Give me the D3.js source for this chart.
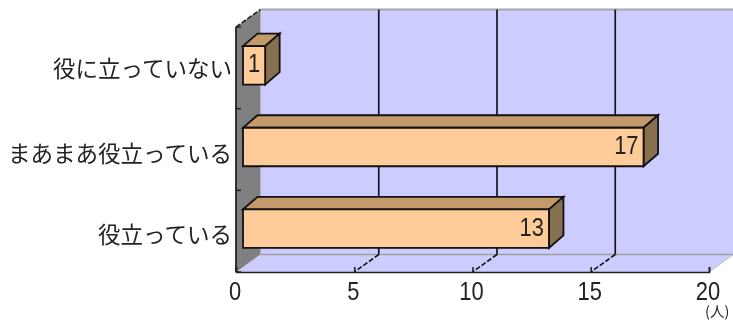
<!DOCTYPE html>
<html><head><meta charset="utf-8">
<style>html,body{margin:0;padding:0;background:#fff}svg{display:block;filter:blur(0.35px)}
text{font-family:"Noto Sans CJK JP",sans-serif;fill:#222}
.num{font-family:"Liberation Sans",sans-serif}</style>
<script src="https://cdn.jsdelivr.net/npm/d3@7"></script></head><body>
<svg id="c" width="733" height="322"></svg>
<script>
const categories = ["役に立っていない","まあまあ役立っている","役立っている"];
const values = [1,17,13];
const xTicks = [0,5,10,15,20];
const unitLabel = "(人)";

const pL=236,pR=709,pT=27,pB=272,dx=24.5,dy=-17.5,digitW=12.2;
const svg=d3.select("#c");
const x=d3.scaleLinear().domain([0,20]).range([pL,pR]);
const y=d3.scaleBand().domain(categories).range([pT,pB]);
const line=d3.line();
const poly=(pts,fill,stroke,sw)=>svg.append("path").attr("d",line(pts)+"Z").attr("fill",fill).attr("stroke",stroke||"none").attr("stroke-width",sw||0);

// walls
poly([[pL+dx,pT+dy],[pR+dx,pT+dy],[pR+dx,pB+dy],[pL+dx,pB+dy]],"#ccccff");
poly([[pL,pB],[pR,pB],[pR+dx,pB+dy],[pL+dx,pB+dy]],"#ccccff");
poly([[pL,pT],[pL+dx,pT+dy],[pL+dx,pB+dy],[pL,pB]],"#808080");
svg.append("path").attr("d",line([[pL+dx,pT+dy],[pR+dx,pT+dy]])).attr("stroke","#a6a6a6").attr("stroke-width",2);
svg.append("path").attr("d",line([[pL+dx,pB+dy],[pR+dx,pB+dy]])).attr("stroke","#a0a0a0").attr("stroke-width",1.5);
svg.append("path").attr("d",line([[pR,pB],[pR+dx,pB+dy]])).attr("stroke","#c0c0c0").attr("stroke-width",1);

// back-wall gridlines and dashed floor ticks
xTicks.slice(1,-1).forEach(t=>{
  svg.append("line").attr("x1",x(t)+dx).attr("x2",x(t)+dx).attr("y1",pT+dy).attr("y2",pB+dy).attr("stroke","#14141e").attr("stroke-width",1.7);
  svg.append("line").attr("x1",x(t)+dx).attr("x2",x(t)).attr("y1",pB+dy).attr("y2",pB).attr("stroke","#111").attr("stroke-width",1.6).attr("stroke-dasharray","5 2");
});

// axes
const gx=svg.append("g").attr("transform",`translate(0,${pB})`).call(d3.axisBottom(x).tickValues(xTicks).tickSize(-5).tickPadding(12));
gx.selectAll("path").attr("stroke","#222").attr("stroke-width",1.6);
gx.selectAll("line").attr("stroke","#222").attr("stroke-width",1.6);
gx.selectAll("text").attr("class","num").attr("font-size",25).attr("text-anchor","middle").attr("dx",-1.5).attr("dy",0).attr("y",28).attr("fill","#222")
  .attr("textLength",d=>String(d).length*digitW).attr("lengthAdjust","spacingAndGlyphs");
const yEdges=d3.range(0,categories.length+1).map(i=>pT+i*y.step());
svg.append("line").attr("x1",pL).attr("x2",pL).attr("y1",pT).attr("y2",pB).attr("stroke","#222").attr("stroke-width",1.8);
svg.selectAll(".yt").data(yEdges).join("line").attr("class","yt").attr("x1",pL).attr("x2",pL+5).attr("y1",d=>d).attr("y2",d=>d).attr("stroke","#222").attr("stroke-width",1.6);
svg.append("line").attr("x1",pL).attr("x2",pL+dx).attr("y1",pT).attr("y2",pT+dy).attr("stroke","#222").attr("stroke-width",1.6).attr("stroke-dasharray","5 2");

svg.selectAll(".cat").data(categories).join("text").attr("class","cat")
  .attr("x",232).attr("y",(d,i)=>y(d)+y.bandwidth()/2+(i?2:-0.5)).attr("text-anchor","end").attr("dominant-baseline","central")
  .attr("font-size",22.5).text(d=>d);

// bars
const ox=7, bh=38.5, sx=14.5, sy=-12.5;
categories.forEach((c,i)=>{
  const x0=x(0)+ox, xe=x(values[i])+ox-1.5;
  const yc=y(c)+y.bandwidth()/2-2.5, y0=yc-bh/2, y1=yc+bh/2;
  poly([[x0,y0],[xe,y0],[xe+sx,y0+sy],[x0+sx,y0+sy]],"#c49a6c","#111",1.8);
  poly([[xe,y0],[xe+sx,y0+sy],[xe+sx,y1+sy],[xe,y1]],"#87704f","#111",1.8);
  poly([[x0,y0],[xe,y0],[xe,y1],[x0,y1]],"#ffcc99","#111",1.8);
  svg.append("text").attr("class","num").attr("x",xe-5).attr("y",yc+7).attr("text-anchor","end").attr("font-size",25)
    .attr("textLength",String(values[i]).length*digitW).attr("lengthAdjust","spacingAndGlyphs").text(values[i]);
});
svg.append("text").attr("x",705).attr("y",317).attr("font-size",14.5).text(unitLabel);
</script></body></html>
